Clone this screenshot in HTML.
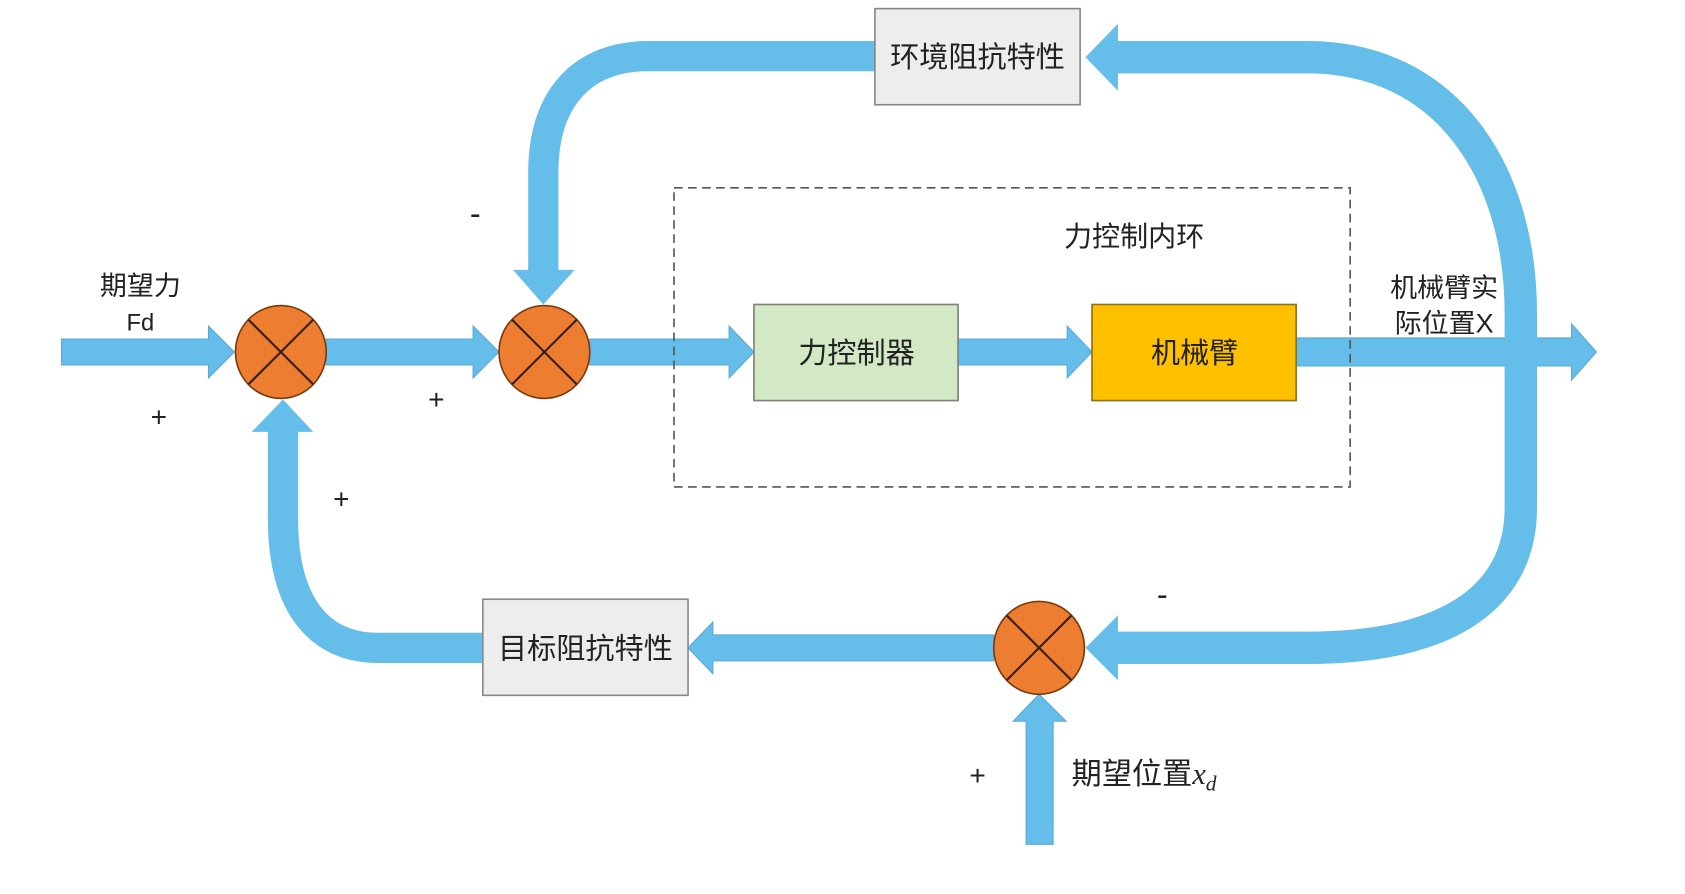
<!DOCTYPE html>
<html><head><meta charset="utf-8"><style>
html,body{margin:0;padding:0;background:#fff;}
svg{display:block;}
text{font-family:"Liberation Sans","Noto Sans CJK SC",sans-serif;fill:#222;}
</style></head><body>
<svg width="1685" height="894" viewBox="0 0 1560 828" preserveAspectRatio="none" xmlns="http://www.w3.org/2000/svg">
<g fill="#65bde9" stroke="#5aa8d6" stroke-width="1">
<!-- input arrow -->
<polygon points="57,314 193,314 193,302 217,326 193,350 193,338 57,338"/>
<polygon points="302,314 438,314 438,302 462,326 438,350 438,338 302,338"/>
<polygon points="546,314 675,314 675,302 698,326 675,350 675,338 546,338"/>
<polygon points="887,314 988,314 988,302 1011,326 988,350 988,338 887,338"/>
<polygon points="1200,313 1455,313 1455,300 1478,326 1455,352 1455,339 1200,339"/>
<polygon points="920,588 660,588 660,576 637,600 660,624 660,612 920,612"/>
<polygon points="950,782 950,668 938,668 962,643 987,668 975,668 975,782"/>
</g>
<g fill="none" stroke="#65bde9">
<!-- right loop -->
<path d="M1030,53 L1210,53 C1340,53 1408,160 1408,290 L1408,470 C1408,560 1330,600 1210,600 L1030,600" stroke-width="30"/>
<!-- top-left loop -->
<path d="M812,52 L600,52 C540,52 503,90 503,160 L503,252" stroke-width="28"/>
<!-- bottom-left loop -->
<path d="M448,600 L350,600 C295,600 262,560 262,480 L262,398" stroke-width="28"/>
</g>
<g fill="#65bde9">
<polygon points="1035,22 1035,84 1005,53"/>
<polygon points="1035,570 1035,630 1005,600"/>
<polygon points="475,250 532,250 503,282"/>
<polygon points="233,400 290,400 262,370"/>
</g>
<!-- dashed box -->
<rect x="624" y="174" width="626" height="277" fill="none" stroke="#555" stroke-width="1.5" stroke-dasharray="8,5"/>
<!-- boxes -->
<rect x="698" y="282" width="189" height="89" fill="#d3e8c4" stroke="#7f7f7f" stroke-width="1.5"/>
<rect x="1011" y="282" width="189" height="89" fill="#ffc000" stroke="#8a7020" stroke-width="1.5"/>
<rect x="810" y="8" width="190" height="89" fill="#ededed" stroke="#888" stroke-width="1.5"/>
<rect x="447" y="555" width="190" height="89" fill="#ededed" stroke="#888" stroke-width="1.5"/>
<!-- sums -->
<g fill="#ed7d31" stroke="#7a3a10" stroke-width="1.5">
<ellipse cx="260" cy="326" rx="42" ry="43"/>
<ellipse cx="504" cy="326" rx="42" ry="43"/>
<ellipse cx="962" cy="600" rx="42" ry="43"/>
</g>
<g stroke="#3a2010" stroke-width="2">
<line x1="230" y1="296" x2="290" y2="356"/><line x1="290" y1="296" x2="230" y2="356"/>
<line x1="474" y1="296" x2="534" y2="356"/><line x1="534" y1="296" x2="474" y2="356"/>
<line x1="932" y1="570" x2="992" y2="630"/><line x1="992" y1="570" x2="932" y2="630"/>
</g>
<!-- labels -->
<g font-size="27" text-anchor="middle">
<text x="793" y="336">力控制器</text>
<text x="1106" y="336">机械臂</text>
<text x="905" y="62">环境阻抗特性</text>
<text x="542" y="610">目标阻抗特性</text>
<text x="1050" y="228" font-size="26">力控制内环</text>
<text x="130" y="273" font-size="25">期望力</text>
<text x="130" y="306" font-size="22">Fd</text>
<text x="1337" y="275" font-size="25">机械臂实</text>
<text x="1337" y="308" font-size="25">际位置X</text>
</g>
<g font-size="26" text-anchor="middle">
<text x="147" y="395">+</text>
<text x="404" y="379">+</text>
<text x="316" y="471">+</text>
<text x="905" y="727">+</text>
<text x="440" y="208" font-size="30">-</text>
<text x="1076" y="561" font-size="30">-</text>
</g>
<text x="992" y="726" font-size="28">期望位置<tspan font-family="Liberation Serif" font-style="italic">x</tspan><tspan font-family="Liberation Serif" font-style="italic" font-size="20" dy="6">d</tspan></text>
</svg>
</body></html>
